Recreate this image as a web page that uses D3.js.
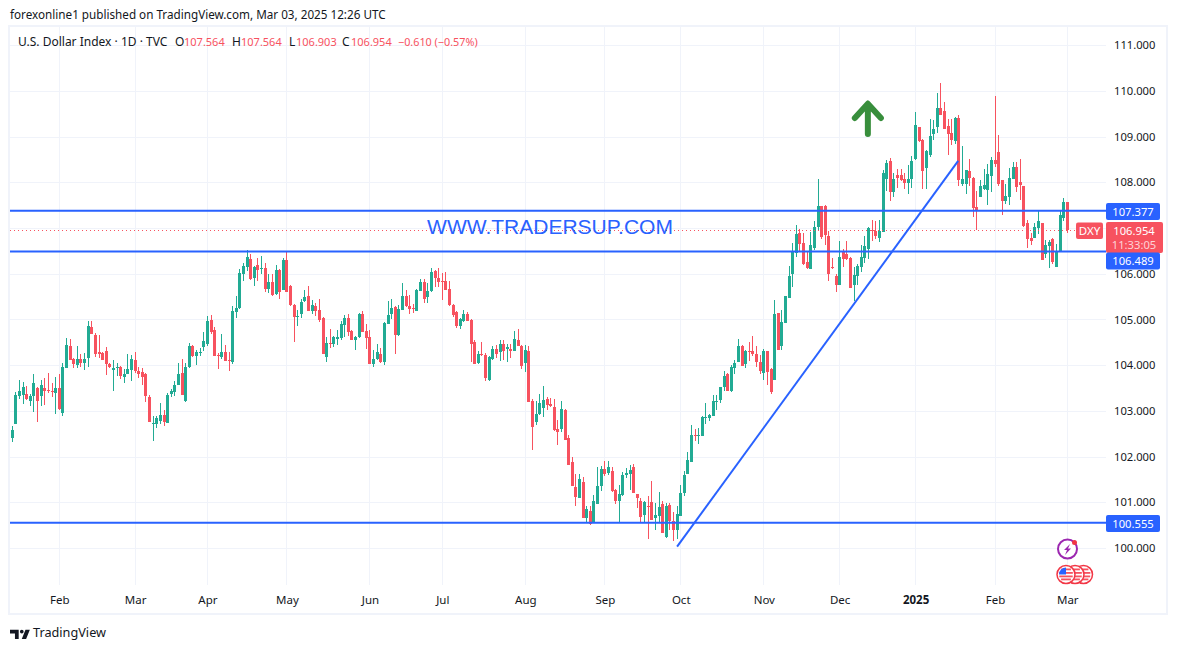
<!DOCTYPE html>
<html><head><meta charset="utf-8">
<script src="https://cdnjs.cloudflare.com/ajax/libs/d3/7.8.5/d3.min.js"></script>
<style>html,body{margin:0;padding:0;background:#fff}svg{display:block}text{font-family:"Noto Sans","Liberation Sans",sans-serif}</style>
</head><body><svg id="c" width="1177" height="650"></svg>
<script>
const opens=[102.41,102.72,103.33,103.35,103.37,103.22,103.33,103.50,103.33,103.50,
103.46,103.44,103.39,103.50,102.96,103.94,104.42,104.14,104.00,104.14,
104.05,104.16,104.84,104.66,104.29,104.27,104.31,104.03,103.90,103.95,
103.96,103.74,103.81,103.90,104.11,103.87,103.85,103.81,103.30,102.72,
102.71,102.78,102.91,102.74,103.37,103.41,103.57,103.83,103.22,103.96,
104.42,104.20,104.27,104.40,104.46,104.99,104.77,104.22,104.18,104.29,
104.11,104.07,105.16,105.25,106.00,106.15,106.32,105.91,106.19,106.11,
106.13,105.67,105.82,105.56,106.08,105.65,106.30,105.73,105.32,105.06,
105.12,105.41,105.52,105.19,105.30,105.21,105.03,104.18,104.49,104.46,
104.57,104.60,104.88,105.03,104.75,104.55,104.62,105.12,104.75,104.62,
104.03,104.14,104.25,104.07,104.90,105.12,105.27,104.66,105.21,105.52,
105.30,105.25,105.19,105.62,105.82,105.49,105.62,106.06,105.91,105.84,
105.84,105.67,105.32,105.16,104.86,104.97,105.12,104.99,104.51,104.05,
104.25,104.22,103.68,104.14,104.35,104.29,104.46,104.35,104.35,104.31,
104.55,104.42,104.05,104.31,103.22,102.76,102.93,103.06,103.26,103.15,
103.09,102.60,102.60,103.02,102.41,101.88,101.34,101.09,101.44,100.66,
100.81,100.55,100.96,101.36,101.73,101.64,101.68,101.27,101.03,101.16,
101.60,101.62,101.77,101.18,101.03,100.72,100.92,101.01,100.66,100.70,
100.96,100.24,100.94,100.59,100.39,100.70,101.20,101.62,101.88,102.47,
102.46,102.45,102.84,102.84,102.89,103.20,103.24,103.52,103.81,103.44,
103.94,104.07,104.42,104.03,104.31,104.31,104.24,104.07,103.83,104.31,
103.92,103.68,105.14,104.42,104.92,105.47,106.00,106.46,106.89,106.67,
106.26,106.10,106.56,107.02,107.48,107.48,106.83,106.14,105.95,105.75,
106.48,106.43,106.35,105.75,105.95,106.15,106.35,106.54,106.96,106.94,
106.78,106.91,108.07,108.47,107.79,108.16,108.16,108.07,107.99,108.07,
108.51,109.21,108.93,108.32,108.60,109.06,109.21,109.63,109.56,109.23,
109.08,108.91,109.41,107.97,107.97,108.25,108.10,107.46,107.68,107.86,
107.83,108.14,108.49,108.67,108.05,107.59,107.68,108.07,108.34,108.01,
107.92,107.11,106.78,106.78,107.00,107.11,106.43,106.61,106.76,106.15,
106.50,107.22,107.564];
const highs=[102.67,103.41,103.68,103.63,103.55,103.37,103.81,103.52,103.68,103.72,
103.83,103.61,103.74,103.81,104.05,104.60,104.57,104.16,104.42,104.25,
104.27,104.97,104.97,104.71,104.66,104.29,104.40,104.05,104.11,104.05,
103.98,103.92,104.25,104.22,104.29,103.96,103.94,103.83,103.35,102.89,
102.89,103.17,103.02,103.39,103.48,103.65,104.05,104.14,104.05,104.49,
104.44,104.33,104.38,104.73,105.08,105.10,104.84,104.27,104.68,104.44,
104.29,105.30,105.52,106.11,106.24,106.52,106.43,106.17,106.35,106.39,
106.24,106.00,106.00,106.19,106.10,106.35,106.48,105.75,105.34,105.21,
105.45,105.65,105.73,105.43,105.36,105.45,105.06,104.62,104.79,104.64,
104.77,104.97,105.10,105.12,104.77,104.64,105.14,105.19,104.90,104.77,
104.33,104.46,104.38,104.95,105.41,105.45,105.30,105.32,105.80,105.65,
105.54,105.34,105.67,105.89,105.89,105.80,106.13,106.08,106.13,106.02,
106.04,105.84,105.34,105.18,105.03,105.21,105.16,105.00,104.55,104.31,
104.51,104.27,104.20,104.42,104.44,104.55,104.55,104.46,104.46,104.75,
104.80,104.44,104.44,104.42,103.26,103.22,103.37,103.55,103.30,103.28,
103.26,102.80,103.22,103.04,102.47,101.99,101.62,101.62,101.55,100.92,
100.92,101.16,101.77,101.79,101.90,101.90,101.77,101.29,101.38,101.66,
101.75,101.82,101.84,101.19,101.09,101.03,101.14,101.47,100.98,101.23,
101.03,100.98,100.98,100.79,100.92,101.38,101.68,102.10,102.69,102.60,
102.62,102.88,103.17,102.93,103.35,103.35,103.53,103.87,103.82,104.00,
104.11,104.57,104.44,104.33,104.51,104.64,104.42,104.22,104.35,104.32,
103.93,105.43,105.15,105.21,105.52,106.17,106.67,107.07,106.98,106.89,
106.50,106.91,107.16,108.07,107.49,107.50,106.94,106.34,106.00,106.72,
106.54,106.72,106.36,106.15,106.21,106.63,106.83,107.02,107.18,107.16,
107.18,108.27,108.49,108.53,108.21,108.29,108.29,108.21,108.38,108.58,
109.54,109.22,108.94,108.71,109.39,109.37,109.96,110.18,109.76,109.39,
109.39,109.43,109.48,108.80,108.28,108.51,108.11,107.81,108.05,108.29,
108.40,108.56,109.89,109.04,108.06,107.97,108.32,108.45,108.45,108.51,
107.93,107.18,106.89,107.11,107.37,107.12,106.74,106.74,106.78,106.65,
107.37,107.66,107.564];
const lows=[102.31,102.72,103.26,103.16,103.24,103.11,102.98,102.76,103.11,103.13,
103.39,103.30,102.93,103.02,102.89,103.94,104.11,103.94,103.94,103.96,
103.90,103.96,104.68,104.18,104.16,104.11,103.79,103.94,103.44,103.76,
103.70,103.61,103.81,103.65,103.83,103.72,103.57,103.20,102.76,102.34,
102.63,102.71,102.67,102.74,103.30,103.33,103.57,103.35,103.20,103.94,
104.18,104.00,104.20,104.31,104.42,104.68,104.20,103.92,104.14,104.09,
103.87,104.03,105.03,105.23,105.84,106.06,105.87,105.73,105.84,106.00,
105.60,105.58,105.52,105.54,105.45,105.65,105.60,105.30,104.51,104.86,
105.03,105.38,105.19,105.12,105.08,104.95,104.25,104.07,104.38,104.40,
104.44,104.55,104.62,104.64,104.55,104.33,104.60,104.73,104.35,104.03,
103.96,104.11,104.05,104.00,104.90,105.01,104.25,104.64,105.21,105.27,
105.12,105.14,105.19,105.62,105.36,105.36,105.60,105.71,105.71,105.43,
105.65,105.30,105.06,104.82,104.79,104.95,104.97,104.07,104.03,104.03,
104.20,103.65,103.65,104.11,104.16,104.09,104.11,104.07,104.16,104.31,
104.42,103.92,103.85,103.19,102.14,102.69,102.91,102.87,103.02,103.09,
102.56,102.25,102.54,102.36,101.82,101.36,100.92,101.09,100.66,100.54,
100.50,100.55,100.96,101.25,101.58,101.60,101.22,100.96,100.57,101.14,
101.53,101.27,101.20,100.87,100.57,100.57,100.20,100.61,100.39,100.55,
100.33,100.22,100.39,100.15,100.20,100.70,101.14,101.62,101.88,102.34,
102.28,102.44,102.71,102.78,102.89,103.02,103.17,103.44,103.44,103.41,
103.81,104.07,103.98,103.94,104.09,104.20,103.96,103.81,103.68,103.57,
103.37,103.68,104.33,104.33,104.92,105.47,105.71,106.37,106.48,106.19,
106.10,106.10,106.52,106.96,106.76,106.63,105.84,106.10,105.60,105.75,
106.15,106.30,105.69,105.40,105.75,106.04,106.24,106.32,106.72,106.76,
106.70,106.91,107.81,107.59,107.68,107.88,108.03,107.86,107.75,107.88,
108.49,108.88,107.86,107.86,108.56,108.93,109.08,109.48,109.17,108.60,
108.82,108.84,107.92,107.92,107.75,107.92,107.24,106.96,107.68,107.84,
107.51,107.79,108.34,107.92,107.29,107.53,107.51,108.07,107.79,107.62,
107.02,106.56,106.63,106.78,106.87,106.30,106.35,106.13,106.21,106.15,
106.50,107.16,106.903];
const closes=[102.58,103.35,103.44,103.52,103.26,103.33,103.61,103.22,103.57,103.44,
103.44,103.41,103.50,103.04,103.96,104.44,104.11,104.03,104.14,104.05,
104.14,104.86,104.68,104.25,104.25,104.11,104.03,103.96,103.94,103.96,
103.76,103.81,103.92,104.14,103.87,103.81,103.74,103.33,102.76,102.74,
102.85,102.91,102.76,103.35,103.44,103.57,103.81,103.35,103.96,104.42,
104.20,104.29,104.29,104.53,104.97,104.73,104.20,104.21,104.29,104.09,
104.10,105.19,105.25,106.02,106.17,106.37,105.89,106.15,106.08,106.13,
105.67,105.82,105.54,106.08,105.60,106.30,105.60,105.32,105.06,105.08,
105.38,105.49,105.19,105.32,105.19,104.99,104.25,104.49,104.46,104.62,
104.62,104.90,105.03,104.73,104.55,104.62,105.12,104.73,104.60,104.03,
104.14,104.29,104.07,104.92,105.10,105.25,104.66,105.23,105.52,105.30,
105.23,105.22,105.65,105.82,105.45,105.62,106.04,105.91,105.82,105.83,
105.65,105.32,105.10,104.86,105.01,105.12,104.97,104.46,104.03,104.25,
104.22,103.72,104.18,104.35,104.25,104.46,104.31,104.40,104.31,104.57,
104.42,103.98,104.33,103.19,102.65,102.93,103.17,103.24,103.13,103.11,
102.58,102.54,103.04,102.36,101.82,101.36,101.12,101.51,100.66,100.85,
100.53,101.03,101.36,101.73,101.62,101.77,101.25,101.03,101.18,101.60,
101.64,101.70,101.20,101.09,100.68,101.01,100.91,100.61,100.72,100.90,
100.33,100.92,100.59,100.39,100.74,101.20,101.60,101.93,102.47,102.46,
102.47,102.87,102.87,102.91,103.22,103.22,103.52,103.76,103.44,103.96,
104.05,104.42,103.98,104.31,104.30,104.24,104.07,103.87,104.31,103.85,
103.41,105.12,104.33,104.95,105.51,105.95,106.48,106.87,106.65,106.21,
106.13,106.63,107.02,107.48,106.81,106.85,106.00,106.13,105.75,106.37,
106.32,106.32,105.69,105.97,106.17,106.37,106.61,107.00,106.93,106.83,
106.94,108.21,108.43,107.79,108.07,108.10,108.05,107.99,108.07,108.47,
109.26,108.91,108.25,108.69,109.02,109.17,109.63,109.48,109.17,109.06,
108.93,109.41,108.05,108.07,108.27,108.10,107.44,107.40,107.92,107.94,
108.18,108.49,108.40,107.97,107.59,107.70,108.10,108.34,107.90,107.94,
107.05,106.76,106.72,107.02,107.16,106.30,106.63,106.70,106.26,106.50,
107.29,107.57,106.954];
const gridPrices=[100,101,102,103,104,105,106,107,108,109,110,111];
const labelPrices=[100,101,102,103,104,105,106,108,109,110,111];
const monthIndex=[14,35,55,77,100,120,143,165,186,209,230,251,273,293];
const monthLabels=["Feb","Mar","Apr","May","Jun","Jul","Aug","Sep","Oct","Nov","Dec","2025","Feb","Mar"];
const levels=[107.377,106.489,100.555];
const lastPrice=106.954;
const trendIndex=[185,262.8];
const trendPrice=[100.03,108.47];
const arrowIndex=[234.2,237.8,241.4,237.8,237.8];
const arrowPrice=[109.41,109.72,109.41,109.72,109.06];

const svg=d3.select("#c");
const red="#f7525f",green="#22ab94",blue="#2962ff",gridC="#f0f3fa",ink="#131722";
const x=d3.scaleLinear().domain([1,293]).range([12.3,1067.3]);
const y=d3.scaleLinear().domain([100,111]).range([548,45.3]);
const L=10,R=1106,T=27,B=585;

svg.append("rect").attr("x",9).attr("y",26).attr("width",1158).attr("height",588).attr("fill","none").attr("stroke",gridC).attr("stroke-width",2);
svg.append("text").attr("x",10).attr("y",19).attr("font-size",11.7).attr("fill",ink).text("forexonline1 published on TradingView.com, Mar 03, 2025 12:26 UTC");

svg.append("g").selectAll("line").data(gridPrices).join("line")
 .attr("x1",L).attr("x2",R).attr("y1",d=>Math.round(y(d))+.5).attr("y2",d=>Math.round(y(d))+.5).attr("stroke",gridC);
svg.append("g").selectAll("line").data(monthIndex).join("line")
 .attr("x1",d=>Math.floor(x(d))+.5).attr("x2",d=>Math.floor(x(d))+.5).attr("y1",T).attr("y2",B).attr("stroke",gridC);

const fam='"Noto Sans","Liberation Sans",sans-serif';
const ay=svg.append("g").attr("transform","translate(1106,0)").call(d3.axisRight(y).tickValues(labelPrices).tickSize(0).tickPadding(8).tickFormat(d3.format(".3f")));
ay.select(".domain").remove();
ay.selectAll("text").attr("font-size",11.2).attr("fill",ink).style("font-family",fam);
const ax=svg.append("g").attr("transform","translate(0,590)").call(d3.axisBottom(x).tickValues(monthIndex).tickSize(0).tickPadding(6).tickFormat((d,i)=>monthLabels[i]));
ax.select(".domain").remove();
ax.selectAll("text").attr("font-size",11.5).attr("fill",ink).style("font-family",fam).attr("font-weight",(d,i)=>monthLabels[i]==="2025"?"bold":"normal");

const idx=d3.range(293);
const cg=svg.append("g");
cg.selectAll(".w").data(idx).join("rect").attr("class","w")
 .attr("x",i=>Math.floor(x(i+1))).attr("width",1)
 .attr("y",i=>Math.round(y(highs[i]))).attr("height",i=>Math.max(1,Math.round(y(lows[i]))-Math.round(y(highs[i]))))
 .attr("fill",i=>closes[i]>=opens[i]?green:red);
cg.selectAll(".b").data(idx).join("rect").attr("class","b")
 .attr("x",i=>Math.floor(x(i+1))-1).attr("width",3)
 .attr("y",i=>Math.round(y(Math.max(opens[i],closes[i]))))
 .attr("height",i=>Math.max(1,Math.round(y(Math.min(opens[i],closes[i])))-Math.round(y(Math.max(opens[i],closes[i])))))
 .attr("fill",i=>closes[i]>=opens[i]?green:red);

svg.append("line").attr("x1",L).attr("x2",1076).attr("y1",Math.round(y(lastPrice))+.5).attr("y2",Math.round(y(lastPrice))+.5)
 .attr("stroke",red).attr("stroke-width",1).attr("stroke-dasharray","1 3");
svg.append("g").selectAll("line").data(levels).join("line")
 .attr("x1",L).attr("x2",R).attr("y1",d=>y(d)).attr("y2",d=>y(d)).attr("stroke",blue).attr("stroke-width",2);
svg.append("path").datum(d3.zip(trendIndex,trendPrice)).attr("fill","none").attr("stroke",blue).attr("stroke-width",2)
 .attr("d",d3.line().x(d=>x(d[0])).y(d=>y(d[1])));
svg.append("path").datum(d3.zip(arrowIndex,arrowPrice)).attr("fill","none").attr("stroke","#388e3c").attr("stroke-width",6)
 .attr("stroke-linecap","round").attr("stroke-linejoin","round").attr("d",d3.line().x(d=>x(d[0])).y(d=>y(d[1])));
svg.append("text").attr("x",550).attr("y",234).attr("text-anchor","middle").attr("font-size",21).style("font-family",'"Liberation Sans",sans-serif').attr("fill",blue).text("WWW.TRADERSUP.COM");

const lg=svg.append("g");
[[18,"U.S. Dollar Index · 1D · TVC",ink,12],[175,"O",ink,12],[184,"107.564",red,11],[232,"H",ink,12],[241,"107.564",red,11],[289,"L",ink,12],[296,"106.903",red,11],[342,"C",ink,12],[351,"106.954",red,11],[398,"−0.610 (−0.57%)",red,10.8]]
 .forEach(t=>lg.append("text").attr("x",t[0]).attr("y",46).attr("font-size",t[3]).attr("fill",t[2]).text(t[1]));

svg.append("rect").attr("x",1106).attr("y",222).attr("width",57).attr("height",31).attr("rx",2).attr("fill",red);
svg.append("text").attr("x",1134).attr("y",235).attr("text-anchor","middle").attr("font-size",11.2).attr("fill","#fff").text(d3.format(".3f")(lastPrice));
svg.append("text").attr("x",1134).attr("y",249).attr("text-anchor","middle").attr("font-size",11.2).attr("fill","#fff").attr("fill-opacity",.75).text("11:33:05");
svg.append("rect").attr("x",1076).attr("y",222.5).attr("width",27).attr("height",16.5).attr("rx",2).attr("fill",red);
svg.append("text").attr("x",1089.5).attr("y",235).attr("text-anchor","middle").attr("font-size",11.5).attr("fill","#fff").text("DXY");

const tagCentre=[211.5,261,523.5];
levels.forEach((v,k)=>{const c=tagCentre[k];
 svg.append("rect").attr("x",1106).attr("y",c-8.5).attr("width",54).attr("height",17).attr("rx",2).attr("fill",blue);
 svg.append("text").attr("x",1133).attr("y",c+4).attr("text-anchor","middle").attr("font-size",11.2).attr("fill","#fff").text(d3.format(".3f")(v));});

const ic=svg.append("g");
ic.append("circle").attr("cx",1067.5).attr("cy",549).attr("r",9.5).attr("fill","#fff").attr("stroke","#9c27b0").attr("stroke-width",2);
ic.append("path").attr("d","M1070 544 L1064 550 L1067 550 L1065 555 L1071 548.5 L1068 548.5 Z").attr("fill","#9c27b0");
ic.append("circle").attr("cx",1074.5).attr("cy",542.5).attr("r",2.5).attr("fill","#f23645");
[1083.5,1075,1066].forEach((cx,k)=>{
 ic.append("circle").attr("cx",cx).attr("cy",574.5).attr("r",9).attr("fill","#fff").attr("stroke","#f23645").attr("stroke-width",1.5);
 [-5,-1.5,2,5].forEach(dy=>{const h=Math.sqrt(Math.max(0,49-dy*dy));
  ic.append("rect").attr("x",cx-h).attr("y",574.5+dy-1).attr("width",2*h).attr("height",1.8).attr("fill","#f7525f");});
 if(k===2){ic.append("path").attr("d",`M${cx-7} 574.5 A7 7 0 0 1 ${cx} 567.5 L${cx} 574.5 Z`).attr("fill","#2962ff");}
});

svg.append("path").attr("transform","translate(10,626) scale(0.62)").attr("fill",ink)
 .attr("d","M14 6H0v6h8v9h6V6Zm12 15h-7l6-15h7l-6 15Zm-7-9a3 3 0 1 0 0-6 3 3 0 0 0 0 6Z");
svg.append("text").attr("x",33).attr("y",637).attr("font-size",12.7).attr("fill",ink).text("TradingView");
</script></body></html>
